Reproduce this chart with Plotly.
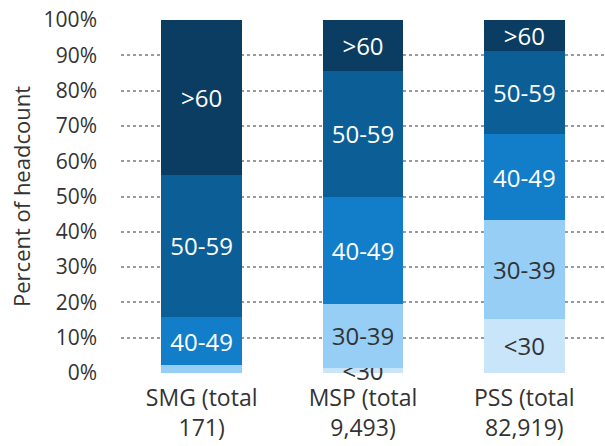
import plotly.graph_objects as go

categories = ["SMG (total<br>171)", "MSP (total<br>9,493)", "PSS (total<br>82,919)"]
age_groups = ["<30", "30-39", "40-49", "50-59", ">60"]

# percent of headcount per age group, bottom to top
pct_lt30 = [0.0, 1.5, 15.3]
pct_30_39 = [2.2, 18.0, 28.0]
pct_40_49 = [13.7, 30.5, 24.4]
pct_50_59 = [40.2, 35.5, 23.5]
pct_gt60 = [43.9, 14.5, 8.8]

# which segments carry a visible label
labels_lt30 = ["", "<30", "<30"]
labels_30_39 = ["", "30-39", "30-39"]
labels_40_49 = ["40-49", "40-49", "40-49"]
labels_50_59 = ["50-59", "50-59", "50-59"]
labels_gt60 = [">60", ">60", ">60"]

series = [
    (pct_lt30, labels_lt30, "#C8E5FA", "#333333"),
    (pct_30_39, labels_30_39, "#96CEF6", "#333333"),
    (pct_40_49, labels_40_49, "#127EC9", "white"),
    (pct_50_59, labels_50_59, "#0C5F96", "white"),
    (pct_gt60, labels_gt60, "#0B3D62", "white"),
]

fig = go.Figure()
for name, (vals, labs, color, tcolor) in zip(age_groups, series):
    fig.add_trace(go.Bar(
        x=categories, y=vals, name=name,
        marker=dict(color=color, line=dict(width=0)),
        text=labs, texttemplate="%{text}",
        textposition="inside", insidetextanchor="middle",
        constraintext="none",
        textfont=dict(color=tcolor, size=24, family="Open Sans"),
        cliponaxis=False,
        hoverinfo="skip",
    ))

fig.update_layout(
    barmode="stack",
    bargap=0.5,
    width=605, height=446,
    margin=dict(l=121, r=0, t=20, b=73),
    plot_bgcolor="white", paper_bgcolor="white",
    showlegend=False,
    uniformtext=dict(minsize=24, mode="show"),
    font=dict(family="Open Sans", color="#333333", size=20),
)
fig.update_yaxes(
    range=[0, 100], dtick=10, ticksuffix="%",
    showgrid=True, gridcolor="#9a9a9a", griddash="dot", gridwidth=1.5,
    zeroline=False, showline=False, automargin=False,
    ticks="", ticklabelstandoff=23,
    tickfont=dict(size=21, color="#333333"),
    title=dict(text="Percent of headcount", font=dict(size=22, color="#333333"), standoff=6),
)
fig.update_xaxes(
    showline=False, ticks="", automargin=False,
    ticklabelstandoff=9,
    tickfont=dict(size=23, color="#333333"),
)

# drop the browser's default page margin so the figure sits at the window corner
fig.write_html("out.html", config={"displayModeBar": False},
               post_script="document.body.style.margin='0';")
